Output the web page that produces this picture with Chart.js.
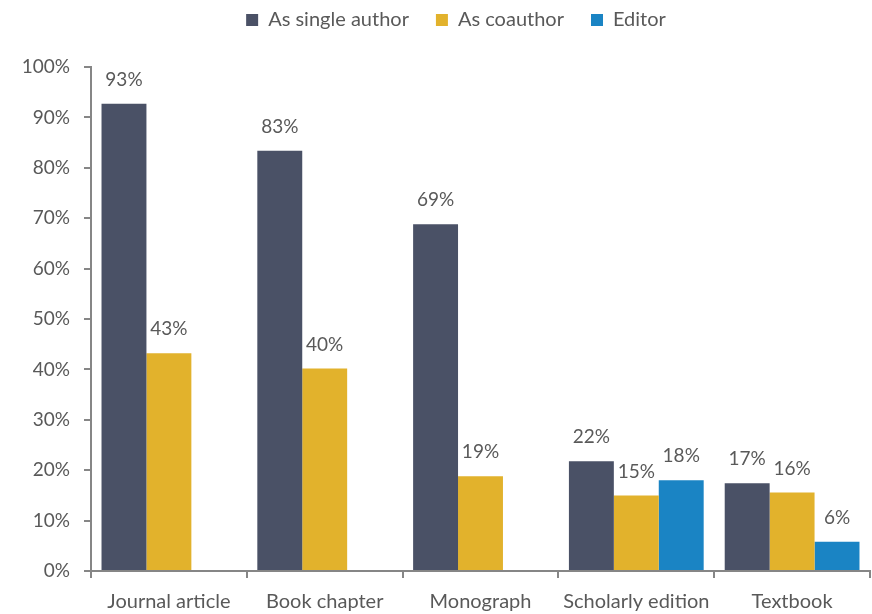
<!DOCTYPE html>
<html>
<head>
<meta charset="utf-8">
<script src="https://cdn.jsdelivr.net/npm/chart.js@4.4.1/dist/chart.umd.min.js"></script>
<style>
  html, body { margin: 0; padding: 0; background: #ffffff; }
  #wrap { width: 872px; height: 614px; position: relative; }
</style>
</head>
<body>
<div id="wrap"><canvas id="chart"></canvas></div>
<script>
// Chart data
const categories = ['Journal article', 'Book chapter', 'Monograph', 'Scholarly edition', 'Textbook'];
const singleAuthor = [92.7, 83.4, 68.8, 21.8, 17.4];
const coauthor = [43.2, 40.2, 18.8, 15.0, 15.6];
const editor = [null, null, null, 18.0, 5.8];
const yTicks = [0, 10, 20, 30, 40, 50, 60, 70, 80, 90, 100];

const textColor = '#595959';
const axisColor = '#868686';
const fontFamily = 'Lato, "Open Sans", sans-serif';

// Draws the rounded percentage above each bar
const barLabels = {
    id: 'barLabels',
    afterDatasetsDraw(chart) {
        const ctx = chart.ctx;
        ctx.save();
        ctx.fillStyle = textColor;
        ctx.font = '19px ' + fontFamily;
        ctx.textAlign = 'center';
        ctx.textBaseline = 'middle';
        chart.data.datasets.forEach((ds, i) => {
            chart.getDatasetMeta(i).data.forEach((bar, j) => {
                const v = ds.data[j];
                if (v === null || v === undefined) return;
                ctx.fillText(Math.round(v) + '%', bar.x, bar.y - 24);
            });
        });
        ctx.restore();
    }
};

// Fixed legend height and a small shift to the right, like the original
const legendTweak = {
    id: 'legendTweak',
    beforeInit(chart) {
        const legend = chart.legend;
        const fit = legend.fit;
        legend.fit = function() {
            fit.call(legend);
            this.height = 84;
        };
        const draw = legend.draw;
        legend.draw = function() {
            chart.ctx.save();
            chart.ctx.translate(21, 0);
            draw.call(legend);
            chart.ctx.restore();
        };
    }
};

new Chart(document.getElementById('chart'), {
    type: 'bar',
    data: {
        labels: categories,
        datasets: [
            { label: 'As single author', data: singleAuthor, backgroundColor: '#4a5166' },
            { label: 'As coauthor', data: coauthor, backgroundColor: '#e2b22c' },
            { label: 'Editor', data: editor, backgroundColor: '#1a84c4' }
        ]
    },
    options: {
        responsive: true,
        maintainAspectRatio: false,
        animation: false,
        layout: { padding: { left: 0, right: 2, top: -17, bottom: -12 } },
        datasets: { bar: { categoryPercentage: 0.865, barPercentage: 1.0 } },
        plugins: {
            legend: {
                position: 'top',
                labels: {
                    boxWidth: 12,
                    boxHeight: 12,
                    padding: 27,
                    color: textColor,
                    font: { family: fontFamily, size: 20 }
                }
            },
            tooltip: { enabled: false }
        },
        scales: {
            x: {
                grid: {
                    offset: true,
                    drawOnChartArea: false,
                    tickLength: 7,
                    color: axisColor,
                    lineWidth: 2
                },
                border: { color: axisColor, width: 2 },
                ticks: {
                    color: textColor,
                    padding: 12,
                    font: { family: fontFamily, size: 20 }
                }
            },
            y: {
                min: 0,
                max: 100,
                afterBuildTicks: (scale) => { scale.ticks = yTicks.map(v => ({ value: v })); },
                afterFit: (scale) => { scale.width = 91; },
                grid: {
                    drawOnChartArea: false,
                    tickLength: 7,
                    color: axisColor,
                    lineWidth: 2
                },
                border: { color: axisColor, width: 2 },
                ticks: {
                    color: textColor,
                    padding: 14,
                    font: { family: fontFamily, size: 19 },
                    callback: (v) => v + '%'
                }
            }
        }
    },
    plugins: [barLabels, legendTweak]
});
</script>
</body>
</html>
